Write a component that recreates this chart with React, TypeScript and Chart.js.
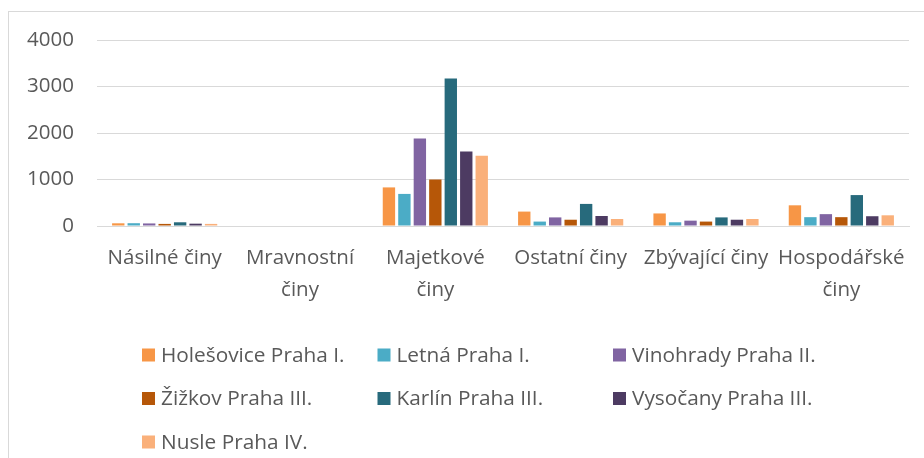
import React, { useEffect, useRef } from "react";
import { Chart, registerables } from "chart.js";

Chart.register(...registerables);

const categories = ["Násilné činy", "Mravnostní činy", "Majetkové činy", "Ostatní činy", "Zbývající činy", "Hospodářské činy"];
const categoryLines = [["Násilné činy"], ["Mravnostní", "činy"], ["Majetkové", "činy"], ["Ostatní činy"], ["Zbývající činy"], ["Hospodářské", "činy"]];

const seriesNames = ["Holešovice Praha I.", "Letná Praha I.", "Vinohrady Praha II.", "Žižkov Praha III.", "Karlín Praha III.", "Vysočany Praha III.", "Nusle Praha IV."];
const seriesColors = ["#F79646", "#4BACC6", "#8064A2", "#B65708", "#276A7C", "#4D3B62", "#FAB07A"];

const holesovice = [58, 0, 830, 310, 270, 445];
const letna = [60, 0, 690, 95, 80, 190];
const vinohrady = [55, 0, 1880, 185, 115, 255];
const zizkov = [45, 0, 1000, 135, 95, 190];
const karlin = [80, 0, 3170, 475, 185, 665];
const vysocany = [50, 0, 1600, 215, 135, 210];
const nusle = [45, 0, 1510, 150, 150, 230];
const seriesValues = [holesovice, letna, vinohrady, zizkov, karlin, vysocany, nusle];

const yTicks = [0, 1000, 2000, 3000, 4000];

const FONT = '"Open Sans", "DejaVu Sans", sans-serif';
const TEXT = "#595959";

const gridLegend = {
  id: "gridLegend",
  afterDraw(chart: any, _args: any, opts: any) {
    const ctx = chart.ctx;
    ctx.save();
    ctx.font = `${opts.fontSize}px ${FONT}`;
    ctx.textBaseline = "middle";
    ctx.textAlign = "left";
    chart.data.datasets.forEach((ds: any, i: number) => {
      const col = i % opts.cols;
      const row = Math.floor(i / opts.cols);
      const x = opts.x0 + col * opts.colW;
      const y = opts.y0 + row * opts.rowH;
      ctx.fillStyle = ds.backgroundColor;
      ctx.fillRect(x, y - opts.box / 2, opts.box, opts.box);
      ctx.fillStyle = TEXT;
      ctx.fillText(ds.label, x + opts.box + 6, y + 1);
    });
    ctx.restore();
  },
};

export default function App() {
  const ref = useRef<HTMLCanvasElement | null>(null);
  useEffect(() => {
    let chart: Chart | null = null;
    let cancelled = false;
    const make = () => {
      if (cancelled || !ref.current) return;
      chart = new Chart(ref.current, {
        type: "bar",
        data: {
          labels: categoryLines as any,
          datasets: seriesNames.map((name, i) => ({
            label: name,
            data: seriesValues[i],
            backgroundColor: seriesColors[i],
            borderWidth: 0,
            categoryPercentage: 0.8,
            barPercentage: 0.8,
          })),
        },
        options: {
          responsive: false,
          animation: false,
          devicePixelRatio: 1,
          layout: { padding: { left: 0, right: 15, top: 40, bottom: 142 } },
          plugins: {
            legend: { display: false },
            tooltip: { enabled: false },
            gridLegend: { x0: 142, colW: 235.5, y0: 355, rowH: 43.5, cols: 3, box: 13, fontSize: 20.8 },
          } as any,
          scales: {
            x: {
              grid: { display: false, drawTicks: false },
              border: { display: true, color: "#d9d9d9", width: 1 },
              ticks: {
                color: TEXT,
                font: { family: FONT, size: 20.5, lineHeight: 1.58 },
                padding: 16,
                maxRotation: 0,
                autoSkip: false,
              },
              afterFit: (s: any) => { s.height = 90; },
            },
            y: {
              min: 0,
              max: 4000,
              afterBuildTicks: (s: any) => { s.ticks = yTicks.map((v) => ({ value: v })); },
              grid: { color: "#d9d9d9", drawTicks: false, lineWidth: 1 },
              border: { display: false },
              ticks: {
                color: TEXT,
                font: { family: FONT, size: 20.5 },
                padding: 23,
                callback: (v: any) => String(v),
              },
              afterFit: (s: any) => { s.width = 97; },
            },
          },
        },
        plugins: [gridLegend],
      });
    };
    if ((document as any).fonts && (document as any).fonts.load) {
      Promise.all([
        (document as any).fonts.load(`20px "Open Sans"`),
      ]).then(make, make);
    } else make();
    return () => {
      cancelled = true;
      if (chart) chart.destroy();
    };
  }, []);
  return (
    <div style={{ position: "fixed", left: 0, top: 0, width: 924, height: 458, overflow: "hidden", background: "#fff" }}>
      <div style={{ position: "absolute", left: 8, top: 11, width: 940, height: 470, border: "1px solid #d9d9d9", boxSizing: "border-box" }} />
      <canvas ref={ref} width={924} height={458} style={{ position: "absolute", left: 0, top: 0, width: 924, height: 458 }} />
    </div>
  );
}
